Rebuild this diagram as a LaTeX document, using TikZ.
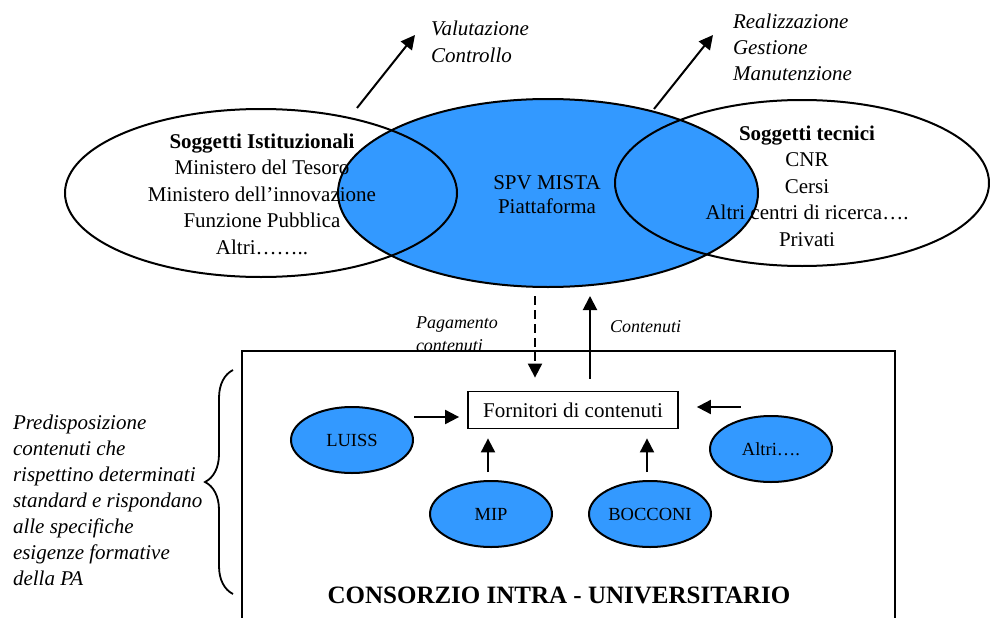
\documentclass[tikz,border=0pt]{standalone}
\usepackage{fontspec}
\setmainfont{Liberation Serif}
\usetikzlibrary{calc,shapes.geometric,arrows.meta,decorations.pathreplacing}
\definecolor{spvblue}{RGB}{51,153,255}

\begin{document}
\begin{tikzpicture}[x=1pt,y=-1pt,line width=2pt,
  arr/.style={-{Triangle[length=14pt,width=14pt]}},
  bigell/.style={ellipse,draw,inner sep=0pt},
  uni/.style={ellipse,draw,fill=spvblue,minimum width=122pt,minimum height=66pt,inner sep=0pt,font=\fontsize{18.5}{22}\selectfont},
  txt/.style={align=center,inner sep=0pt,font=\fontsize{21}{26.5}\selectfont},
  note/.style={align=left,inner sep=0pt,font=\fontsize{21}{27}\selectfont\itshape}]
\useasboundingbox (0,0) rectangle (990,618);
\node[bigell,fill=spvblue,minimum width=420pt,minimum height=188pt] (spv) at (548,193) {};
\node[bigell,minimum width=392pt,minimum height=168pt] (ist) at (261,193) {};
\node[bigell,minimum width=374pt,minimum height=166pt] (tec) at (802,183) {};
\node[txt] (istT) at (262,194) {\textbf{Soggetti Istituzionali}\\Ministero del Tesoro\\Ministero dell’innovazione\\Funzione Pubblica\\Altri……..};
\node[txt,font=\fontsize{21}{24}\selectfont] (spvT) at (547,195) {SPV MISTA\\Piattaforma};
\node[txt] (tecT) at (807,186) {\textbf{Soggetti tecnici}\\CNR\\Cersi\\Altri centri di ricerca….\\Privati};
\node[note,anchor=north west] (val) at (430,20) {Valutazione\\Controllo};
\node[note,anchor=north west,font=\fontsize{21}{26}\selectfont\itshape] (real) at (732,13) {Realizzazione\\Gestione\\Manutenzione};
\draw[arr] ($(ist.north)+(96,0)$) -- ($(val.north west)+(-15,15)$);
\draw[arr] ($(spv.north)+(106,11)$) -- ($(real.north west)+(-19,22)$);
\draw[line width=1.8pt] (242,630) -- (242,351) -- (895,351) -- (895,630);
\node[draw,line width=1.8pt,minimum width=210pt,minimum height=37pt,inner sep=0pt,font=\fontsize{21}{24}\selectfont] (forn) at (573,410) {Fornitori di contenuti};
\node[uni] (luiss) at (352,440) {LUISS};
\node[uni] (mip) at (491,514) {MIP};
\node[uni] (bocc) at (650,514) {BOCCONI};
\node[uni] (altri) at (771,449) {Altri….};
\node[note,anchor=north west,font=\fontsize{18}{23}\selectfont\itshape] (pag) at (415,316) {Pagamento\\contenuti};
\node[note,anchor=north west,font=\fontsize{18}{22}\selectfont\itshape] (cont) at (609,320) {Contenuti};
\path (forn.north) ++(-38,0) coordinate (pagx) (forn.north) ++(17,0) coordinate (contx);
\draw[arr,dash pattern=on 9pt off 5pt,shorten <=8pt] (pagx |- spv.south) -- ($(pagx)+(0,-13)$);
\draw[arr,shorten >=8pt] ($(contx)+(0,-12)$) -- (contx |- spv.south);
\draw[arr] ($(luiss.east |- forn.west)+(0,7)$) -- ($(forn.west)+(-8,7)$);
\draw[arr] ($(forn.east)+(62,-3)$) -- ($(forn.east)+(18,-3)$);
\draw[arr] ($(mip.north)+(-3,-8)$) -- ($(mip.north |- forn.south)+(-3,9)$);
\draw[arr] ($(bocc.north)+(-3,-8)$) -- ($(bocc.north |- forn.south)+(-3,9)$);
\draw[line width=1.8pt,decorate,decoration={brace,amplitude=28pt}] (233,594) -- (233,370);
\node[note,anchor=north west,font=\fontsize{21}{26}\selectfont\itshape] (pred) at (12,414) {Predisposizione\\contenuti che\\rispettino determinati\\standard e rispondano\\alle specifiche\\esigenze formative\\della PA};
\node[inner sep=0pt,font=\fontsize{25}{30}\selectfont\bfseries] (cons) at (559,595) {CONSORZIO INTRA - UNIVERSITARIO};
\end{tikzpicture}
\end{document}
